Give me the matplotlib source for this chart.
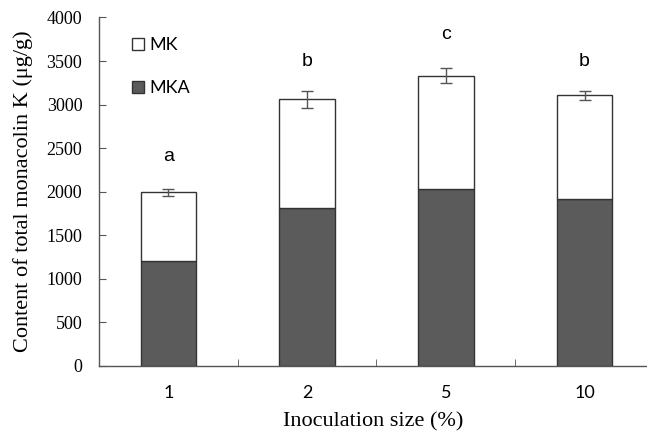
import numpy as np
import matplotlib.pyplot as plt
from matplotlib.patches import Patch

# data
sizes = ["1", "2", "5", "10"]
mka = [1205, 1810, 2025, 1920]
total = [1990, 3060, 3330, 3105]
err = [45, 100, 85, 55]
letters = ["a", "b", "c", "b"]
letter_y = [2400, 3500, 3800, 3500]

mk = [t - a for t, a in zip(total, mka)]
x = np.arange(len(sizes))

fig = plt.figure(figsize=(6.47, 4.32), dpi=100)
ax = fig.add_axes([0.153, 0.1535, 0.847, 0.806])

ax.bar(x, mka, width=0.4, color="#5b5b5b", edgecolor="#333333", linewidth=1)
ax.bar(x, mk, width=0.4, bottom=mka, color="white", edgecolor="#333333", linewidth=1)
ax.errorbar(x, total, yerr=err, fmt="none", ecolor="#555555", elinewidth=1, capsize=4, capthick=1)

for xi, l, ly in zip(x, letters, letter_y):
    ax.text(xi, ly, l, ha="center", va="center", fontsize=14, family="Liberation Sans")

ax.set_xlim(-0.5, 3.45)
ax.set_ylim(0, 4000)
ax.set_yticks(np.arange(0, 4001, 500))
ax.set_xticks(x)
ax.set_xticklabels(sizes, family="Lato", fontsize=13)
ax.set_xticks(np.arange(0.5, 3, 1), minor=True)
ax.tick_params(axis="x", which="major", length=0, pad=14)
ax.tick_params(axis="x", which="minor", direction="in", length=5, color="#555555")
ax.tick_params(axis="y", direction="in", length=5, color="#555555", labelsize=13, pad=12)
for lab in ax.get_yticklabels():
    lab.set_family("Liberation Serif")

for s in ["top", "right"]:
    ax.spines[s].set_visible(False)
for s in ["left", "bottom"]:
    ax.spines[s].set_color("#555555")
    ax.spines[s].set_linewidth(1)

ax.set_ylabel("Content of total monacolin K (μg/g)", family="Liberation Serif", fontsize=16, labelpad=10)
ax.set_xlabel("Inoculation size (%)", family="Liberation Serif", fontsize=16, labelpad=8)

handles = [Patch(facecolor="white", edgecolor="#333333", label="MK"),
           Patch(facecolor="#5b5b5b", edgecolor="#333333", label="MKA")]
ax.legend(handles=handles, loc="upper left", bbox_to_anchor=(0.03, 0.99), frameon=False,
          handlelength=0.7, handleheight=0.7, handletextpad=0.3, labelspacing=1.5,
          prop={"family": "Lato", "size": 13})

plt.savefig("out.png", dpi=100)
